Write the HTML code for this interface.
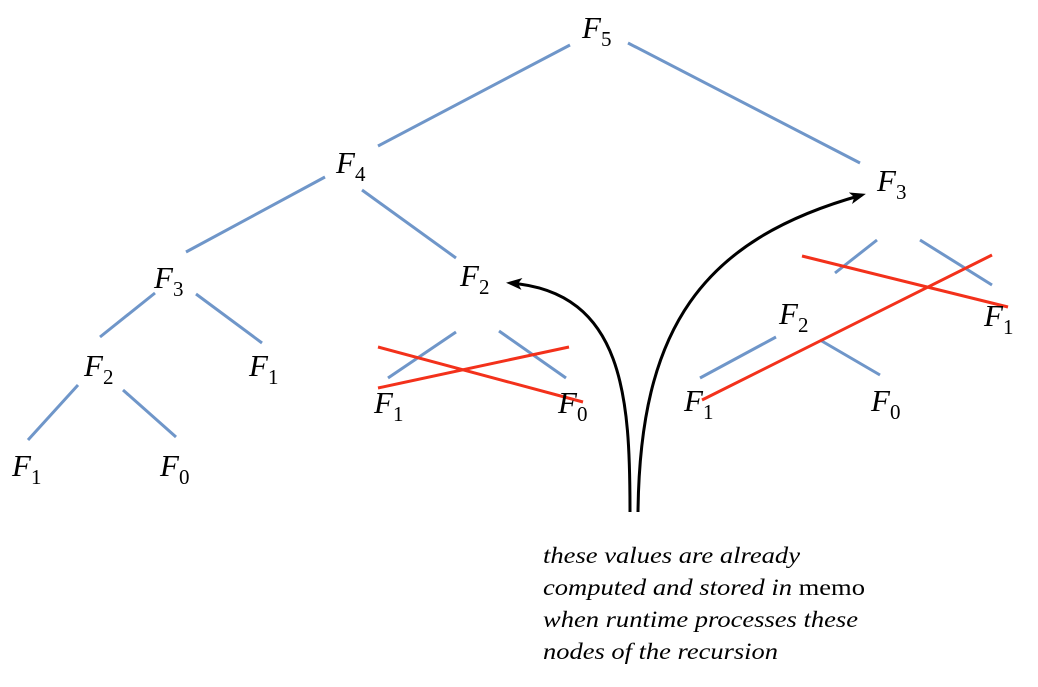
<!DOCTYPE html>
<html><head><meta charset="utf-8"><style>
html,body{margin:0;padding:0;background:#fff;}
svg{display:block;}
.n{font-family:"Liberation Serif",serif;font-style:italic;font-size:31px;fill:#000;}
.n tspan.s{font-style:normal;font-size:21px;}
.e{stroke:#6f96c9;stroke-width:3;fill:none;}
.r{stroke:#f3311b;stroke-width:3;fill:none;}
.a{stroke:#000;stroke-width:3;fill:none;}
.t{font-family:"Liberation Serif",serif;font-style:italic;font-size:23px;fill:#000;}
</style></head><body>
<svg width="1038" height="687" viewBox="0 0 1038 687">
<defs><marker id="ah" markerWidth="18" markerHeight="14" refX="12" refY="6" orient="auto" markerUnits="userSpaceOnUse"><path d="M0,0 L16,6 L0,12 L4,6 z" fill="#000"/></marker></defs>
<g>
<line class="e" x1="378" y1="146" x2="570" y2="45"/>
<line class="e" x1="628" y1="43" x2="860" y2="163"/>
<line class="e" x1="325" y1="177" x2="186" y2="252"/>
<line class="e" x1="362" y1="190" x2="456" y2="258"/>
<line class="e" x1="155" y1="293" x2="100" y2="337"/>
<line class="e" x1="196" y1="294" x2="262" y2="343"/>
<line class="e" x1="78" y1="385" x2="28" y2="440"/>
<line class="e" x1="123" y1="390" x2="176" y2="437"/>
<line class="e" x1="456" y1="332" x2="388" y2="378"/>
<line class="e" x1="499" y1="331" x2="566" y2="378"/>
<line class="e" x1="877" y1="240" x2="835" y2="273"/>
<line class="e" x1="920" y1="240" x2="992" y2="285"/>
<line class="e" x1="776" y1="337" x2="700" y2="378"/>
<line class="e" x1="820" y1="340" x2="880" y2="375"/>
</g>
<g>
<line class="r" x1="378" y1="347" x2="583" y2="402"/>
<line class="r" x1="378" y1="388" x2="569" y2="347"/>
<line class="r" x1="802" y1="256" x2="1008" y2="307"/>
<line class="r" x1="702" y1="400" x2="992" y2="255"/>
</g>
<g>
<path class="a" d="M630,512 C630,400 625,292 510,283" marker-end="url(#ah)"/>
<path class="a" d="M638,512 C640,330 700,240 862,195" marker-end="url(#ah)"/>
</g>
<g>
<text class="n" x="582" y="38">F<tspan class="s" dy="8">5</tspan></text>
<text class="n" x="336" y="173">F<tspan class="s" dy="8">4</tspan></text>
<text class="n" x="877" y="191">F<tspan class="s" dy="8">3</tspan></text>
<text class="n" x="154" y="288">F<tspan class="s" dy="8">3</tspan></text>
<text class="n" x="460" y="286">F<tspan class="s" dy="8">2</tspan></text>
<text class="n" x="84" y="376">F<tspan class="s" dy="8">2</tspan></text>
<text class="n" x="249" y="376">F<tspan class="s" dy="8">1</tspan></text>
<text class="n" x="12" y="476">F<tspan class="s" dy="8">1</tspan></text>
<text class="n" x="160" y="476">F<tspan class="s" dy="8">0</tspan></text>
<text class="n" x="374" y="413">F<tspan class="s" dy="8">1</tspan></text>
<text class="n" x="558" y="413">F<tspan class="s" dy="8">0</tspan></text>
<text class="n" x="779" y="324">F<tspan class="s" dy="8">2</tspan></text>
<text class="n" x="984" y="326">F<tspan class="s" dy="8">1</tspan></text>
<text class="n" x="684" y="411">F<tspan class="s" dy="8">1</tspan></text>
<text class="n" x="871" y="411">F<tspan class="s" dy="8">0</tspan></text>
</g>
<g>
<text class="t" x="543" y="563" textLength="257" lengthAdjust="spacingAndGlyphs">these values are already</text>
<text class="t" x="543" y="595" textLength="322" lengthAdjust="spacingAndGlyphs">computed and stored in <tspan font-style="normal">memo</tspan></text>
<text class="t" x="543" y="627" textLength="315" lengthAdjust="spacingAndGlyphs">when runtime processes these</text>
<text class="t" x="543" y="659" textLength="235" lengthAdjust="spacingAndGlyphs">nodes of the recursion</text>
</g>
</svg>
</body></html>
